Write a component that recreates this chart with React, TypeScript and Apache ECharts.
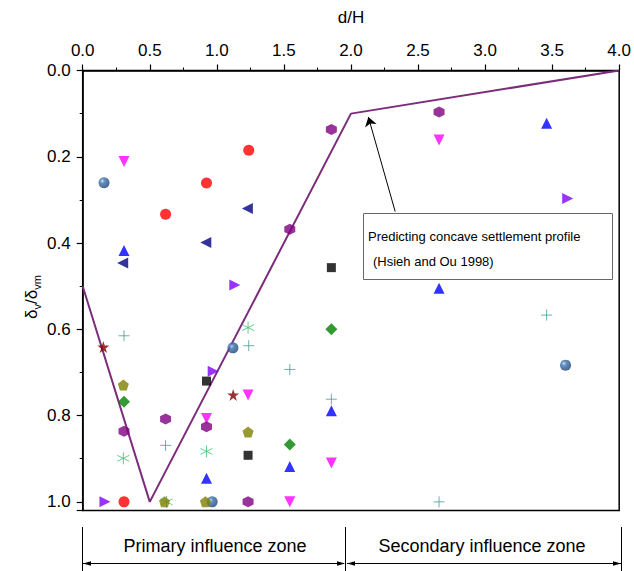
import React, { useEffect, useRef } from "react";
import * as echarts from "echarts";

// ---- data (d/H, δv/δvm) ----
const profileLine = [[0, 0.5], [0.5, 1.0], [2.0, 0.1], [4.0, 0.0]];
const sphereData = [[0.159, 0.26], [1.12, 0.643], [0.965, 1.0], [3.6, 0.683]];
const downTriData = [[0.308, 0.211], [1.233, 0.752], [0.923, 0.807], [1.544, 1.0], [1.854, 0.91], [2.657, 0.161]];
const circleData = [[0.308, 1.0], [0.618, 0.333], [0.923, 0.261], [1.238, 0.185]];
const leftTriData = [[0.298, 0.446], [0.918, 0.399], [1.228, 0.32]];
const upTriData = [[0.308, 0.417], [0.923, 0.945], [1.544, 0.918], [1.854, 0.789], [2.657, 0.505], [3.459, 0.122]];
const rightTriData = [[0.166, 1.0], [0.973, 0.697], [1.134, 0.497], [3.616, 0.297]];
const plusData = [[0.308, 0.615], [0.618, 0.869], [1.238, 0.638], [1.544, 0.693], [1.854, 0.762], [2.657, 1.0], [3.459, 0.567]];
const starData = [[0.154, 0.641], [1.122, 0.752]];
const asteriskData = [[0.303, 0.899], [0.625, 1.0], [0.923, 0.883], [1.233, 0.596]];
const pentagonData = [[0.303, 0.729], [0.61, 1.0], [0.915, 1.0], [1.233, 0.838]];
const squareData = [[0.923, 0.72], [1.233, 0.892], [1.854, 0.457]];
const diamondData = [[0.308, 0.768], [1.544, 0.867], [1.854, 0.6]];
const hexagonData = [[0.308, 0.836], [0.618, 0.808], [0.923, 0.826], [1.233, 1.0], [1.544, 0.368], [1.854, 0.137], [2.657, 0.096]];
const arrowFrom = [2.33, 0.327];
const arrowTo = [2.13, 0.108];

const xRange = [0, 4];
const yRange = [0, 1.02];

const annotationLines = ["Predicting concave settlement profile", "(Hsieh and Ou 1998)"];
const zoneLabels = ["Primary influence zone", "Secondary influence zone"];

const FONT = "'Liberation Sans', Arial, sans-serif";

const SYM = {
  downTri: "path://M0,0 L10,0 L5,9 Z",
  leftTri: "path://M9,0 L9,10 L0,5 Z",
  rightTri: "path://M0,0 L9,5 L0,10 Z",
  plus: "path://M5,0 L5,10 M0,5 L10,5",
  asterisk: "path://M5,0 L5,10 M0.7,2.5 L9.3,7.5 M0.7,7.5 L9.3,2.5",
  star: "path://M5,0 L6.18,3.62 L10,3.62 L6.9,5.86 L8.09,9.5 L5,7.26 L1.91,9.5 L3.1,5.86 L0,3.62 L3.82,3.62 Z",
  pentagon: "path://M5,0 L10,3.63 L8.09,9.5 L1.91,9.5 L0,3.63 Z",
  hexagon: "path://M5,0 L9.33,2.5 L9.33,7.5 L5,10 L0.67,7.5 L0.67,2.5 Z",
};

function scatter(name: string, data: number[][], symbol: string, color: any, size: number, extra: any = {}) {
  return {
    name,
    type: "scatter",
    data,
    symbol,
    symbolSize: size,
    itemStyle: { color, ...(extra.itemStyle || {}) },
    z: 3,
  };
}

export default function App() {
  const ref = useRef<HTMLDivElement>(null);
  useEffect(() => {
    document.body.style.margin = "0";
    const chart = echarts.init(ref.current!, null, { renderer: "svg" });
    const sphereGrad = new echarts.graphic.RadialGradient(0.35, 0.35, 0.7, [
      { offset: 0, color: "#c4dcf2" },
      { offset: 0.3, color: "#3f74b0" },
      { offset: 1, color: "#173f72" },
    ]);
    const option: any = {
      animation: false,
      backgroundColor: "#ffffff",
      grid: {
        left: 82.7,
        top: 70.5,
        right: 12.5,
        bottom: 60.5,
        show: true,
        borderColor: "#000",
        borderWidth: 1.5,
        backgroundColor: "transparent",
      },
      xAxis: {
        type: "value",
        position: "top",
        min: xRange[0],
        max: xRange[1],
        interval: 0.5,
        name: "d/H",
        nameLocation: "middle",
        nameGap: 45,
        nameTextStyle: { fontFamily: FONT, fontSize: 17, color: "#000" },
        axisLine: { show: true, onZero: false, lineStyle: { color: "#000", width: 1.5 } },
        axisTick: { show: true, inside: false, length: 6, lineStyle: { color: "#000", width: 1.2 } },
        minorTick: { show: true, splitNumber: 2, length: 3, lineStyle: { color: "#000", width: 1 } },
        splitLine: { show: false },
        axisLabel: {
          fontFamily: FONT,
          fontSize: 17,
          color: "#000",
          margin: 12,
          formatter: (v: number) => v.toFixed(1),
        },
      },
      yAxis: {
        type: "value",
        inverse: true,
        min: yRange[0],
        max: yRange[1],
        interval: 0.2,
        axisLine: { show: true, onZero: false, lineStyle: { color: "#000", width: 1.5 } },
        axisTick: { show: true, inside: false, length: 6, lineStyle: { color: "#000", width: 1.2 } },
        minorTick: { show: true, splitNumber: 2, length: 3, lineStyle: { color: "#000", width: 1 } },
        splitLine: { show: false },
        axisLabel: {
          fontFamily: FONT,
          fontSize: 17,
          color: "#000",
          margin: 12,
          formatter: (v: number) => (v > 1.01 ? "" : v.toFixed(1)),
        },
      },
      series: [
        {
          name: "profile",
          type: "line",
          data: profileLine,
          symbol: "none",
          lineStyle: { color: "#7b2d7b", width: 2 },
          z: 2,
          markLine: {
            silent: true,
            symbol: ["none", "arrow"],
            symbolSize: 9,
            lineStyle: { color: "#000", width: 1, type: "solid" },
            label: { show: false },
            data: [[{ coord: arrowFrom }, { coord: arrowTo }]],
          },
        },
        scatter("sphere", sphereData, "circle", sphereGrad, 11),
        scatter("downTri", downTriData, SYM.downTri, "#ff00ff", 11),
        scatter("circle", circleData, "circle", "#ff0000", 11),
        scatter("leftTri", leftTriData, SYM.leftTri, "#000080", 11),
        scatter("upTri", upTriData, "triangle", "#0000ff", 11),
        scatter("rightTri", rightTriData, SYM.rightTri, "#8000ff", 11),
        scatter("plus", plusData, SYM.plus, "transparent", 11, {
          itemStyle: { borderColor: "#4a9a9a", borderWidth: 1 },
        }),
        scatter("star", starData, SYM.star, "#800000", 12),
        scatter("asterisk", asteriskData, SYM.asterisk, "transparent", 12, {
          itemStyle: { borderColor: "#3cc070", borderWidth: 1 },
        }),
        scatter("pentagon", pentagonData, SYM.pentagon, "#808000", 11),
        scatter("square", squareData, "rect", "#000000", 9),
        scatter("diamond", diamondData, "diamond", "#008000", 12),
        scatter("hexagon", hexagonData, SYM.hexagon, "#800080", 11),
      ],
      graphic: [
        // y axis title
        {
          type: "text",
          x: 31,
          y: 297,
          rotation: Math.PI / 2,
          style: {
            text: "{a|δ}{s|v}{a|/δ}{s|vm}",
            align: "center",
            verticalAlign: "middle",
            rich: {
              a: { fontFamily: FONT, fontSize: 17, lineHeight: 22, fill: "#000", verticalAlign: "middle" },
              s: { fontFamily: FONT, fontSize: 11, lineHeight: 12, fill: "#000", verticalAlign: "bottom" },
            },
          },
        },
        // annotation box
        {
          type: "rect",
          shape: { x: 363.5, y: 213.5, width: 249, height: 66 },
          style: { fill: "#fff", stroke: "#666", lineWidth: 1 },
          z: 10,
        },
        {
          type: "text",
          x: 368,
          y: 236,
          style: { text: annotationLines[0], fontFamily: FONT, fontSize: 13, fill: "#000", verticalAlign: "middle" },
          z: 11,
        },
        {
          type: "text",
          x: 373,
          y: 261,
          style: { text: annotationLines[1], fontFamily: FONT, fontSize: 13, fill: "#000", verticalAlign: "middle" },
          z: 11,
        },
        // zone markers
        { type: "line", shape: { x1: 82.5, y1: 527, x2: 82.5, y2: 571 }, style: { stroke: "#000", lineWidth: 1 } },
        { type: "line", shape: { x1: 345.5, y1: 527, x2: 345.5, y2: 571 }, style: { stroke: "#000", lineWidth: 1 } },
        { type: "line", shape: { x1: 621.5, y1: 527, x2: 621.5, y2: 571 }, style: { stroke: "#000", lineWidth: 1 } },
        { type: "line", shape: { x1: 83, y1: 563.5, x2: 344, y2: 563.5 }, style: { stroke: "#000", lineWidth: 1 } },
        { type: "line", shape: { x1: 347, y1: 563.5, x2: 621, y2: 563.5 }, style: { stroke: "#000", lineWidth: 1 } },
        { type: "polygon", shape: { points: [[83, 563.5], [91, 561.3], [91, 565.7]] }, style: { fill: "#000" } },
        { type: "polygon", shape: { points: [[345, 563.5], [337, 561.3], [337, 565.7]] }, style: { fill: "#000" } },
        { type: "polygon", shape: { points: [[347, 563.5], [355, 561.3], [355, 565.7]] }, style: { fill: "#000" } },
        { type: "polygon", shape: { points: [[621, 563.5], [613, 561.3], [613, 565.7]] }, style: { fill: "#000" } },
        {
          type: "text",
          x: 215,
          y: 546,
          style: { text: zoneLabels[0], fontFamily: FONT, fontSize: 18, fill: "#000", align: "center", verticalAlign: "middle" },
        },
        {
          type: "text",
          x: 482,
          y: 546,
          style: { text: zoneLabels[1], fontFamily: FONT, fontSize: 18, fill: "#000", align: "center", verticalAlign: "middle" },
        },
      ],
    };
    chart.setOption(option);
    return () => chart.dispose();
  }, []);
  return <div ref={ref} style={{ width: 634, height: 571 }} />;
}
